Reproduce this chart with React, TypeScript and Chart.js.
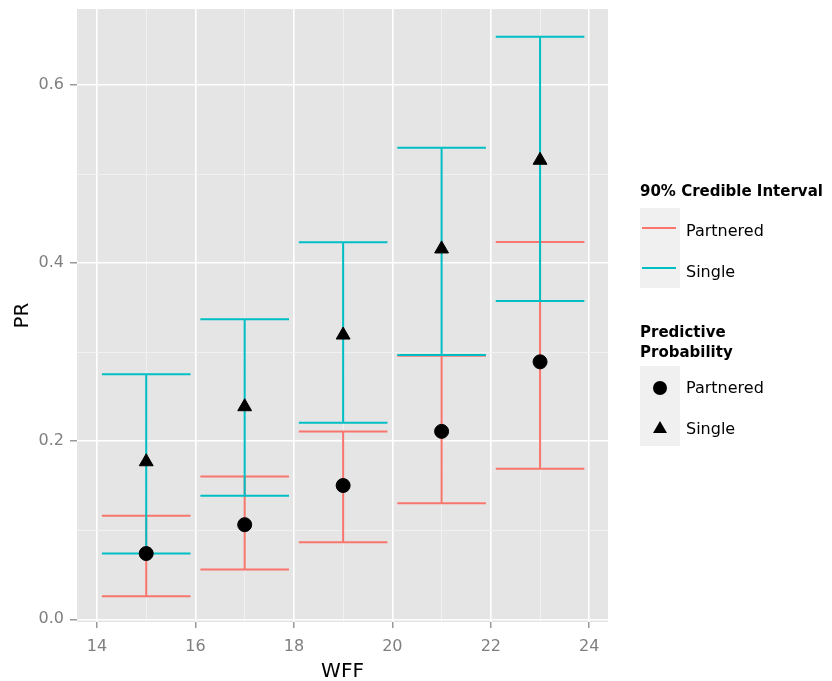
import React, { useEffect, useRef } from "react";
import { Chart, registerables } from "chart.js";

Chart.register(...registerables);

// ---- data ----
const xCategories = [15, 17, 19, 21, 23];
const partneredLow = [0.026, 0.056, 0.0865, 0.1304, 0.169];
const partneredHigh = [0.1164, 0.1604, 0.2111, 0.296, 0.4238];
const singleLow = [0.0739, 0.1388, 0.2209, 0.297, 0.3574];
const singleHigh = [0.2754, 0.337, 0.4235, 0.5298, 0.6544];
const partneredProb = [0.0739, 0.1063, 0.1503, 0.2111, 0.2892];
const singleProb = [0.177, 0.2388, 0.3193, 0.416, 0.5156];

const xMajorTicks = [14, 16, 18, 20, 22, 24];
const xMinorTicks = [15, 17, 19, 21, 23];
const yMajorTicks = [0, 0.2, 0.4, 0.6];
const yMinorTicks = [0.1, 0.3, 0.5];
const capHalfWidth = 0.9;

const PINK = "#F8766D";
const CYAN = "#00BFC4";
const FONT = "'DejaVu Sans', Verdana, sans-serif";

function errorBarPoints(lows: number[], highs: number[]) {
  const pts: { x: number; y: number | null }[] = [];
  xCategories.forEach((x, i) => {
    const lo = lows[i];
    const hi = highs[i];
    pts.push(
      { x: x - capHalfWidth, y: hi },
      { x: x + capHalfWidth, y: hi },
      { x: x + capHalfWidth, y: null },
      { x, y: hi },
      { x, y: lo },
      { x, y: null },
      { x: x - capHalfWidth, y: lo },
      { x: x + capHalfWidth, y: lo },
      { x: x + capHalfWidth, y: null }
    );
  });
  return pts;
}

const isMajor = (list: number[], v: number) =>
  list.some((m) => Math.abs(m - v) < 1e-9);

const panelBg = {
  id: "panelBg",
  beforeDraw(chart: any) {
    const { ctx, chartArea: a } = chart;
    ctx.save();
    ctx.fillStyle = "#E5E5E5";
    ctx.fillRect(a.left, a.top, a.right - a.left, a.bottom - a.top);
    ctx.restore();
  },
};

export default function App() {
  const ref = useRef<HTMLCanvasElement | null>(null);

  useEffect(() => {
    if (!ref.current) return;
    const chart = new Chart(ref.current, {
      type: "scatter",
      data: {
        datasets: [
          {
            type: "scatter",
            label: "Partnered prob",
            data: xCategories.map((x, i) => ({ x, y: partneredProb[i] })),
            pointStyle: "circle",
            pointRadius: 7,
            pointBackgroundColor: "#000",
            pointBorderColor: "#000",
            pointBorderWidth: 1,
            order: 0,
          } as any,
          {
            type: "scatter",
            label: "Single prob",
            data: xCategories.map((x, i) => ({ x, y: singleProb[i] })),
            pointStyle: "triangle",
            pointRadius: 8,
            pointBackgroundColor: "#000",
            pointBorderColor: "#000",
            pointBorderWidth: 1,
            order: 0,
          } as any,
          {
            type: "line",
            label: "Single CI",
            data: errorBarPoints(singleLow, singleHigh),
            borderColor: CYAN,
            borderWidth: 2,
            pointRadius: 0,
            showLine: true,
            spanGaps: false,
            tension: 0,
            order: 1,
          } as any,
          {
            type: "line",
            label: "Partnered CI",
            data: errorBarPoints(partneredLow, partneredHigh),
            borderColor: PINK,
            borderWidth: 2,
            pointRadius: 0,
            showLine: true,
            spanGaps: false,
            tension: 0,
            order: 2,
          } as any,
        ],
      },
      options: {
        responsive: false,
        animation: false,
        events: [],
        devicePixelRatio: 1,
        layout: { padding: { top: 7, right: 224, left: 0, bottom: 0 } },
        plugins: {
          legend: { display: false },
          tooltip: { enabled: false },
        },
        scales: {
          x: {
            type: "linear",
            min: 13.594,
            max: 24.38,
            afterBuildTicks: (axis: any) => {
              axis.ticks = [...xMajorTicks, ...xMinorTicks]
                .sort((a, b) => a - b)
                .map((v) => ({ value: v }));
            },
            afterFit: (axis: any) => {
              axis.height = 59;
              axis.paddingLeft = 0;
              axis.paddingRight = 0;
            },
            border: { display: false },
            grid: {
              color: (c: any) =>
                c.tick && isMajor(xMajorTicks, c.tick.value) ? "#FFFFFF" : "#F2F2F2",
              lineWidth: (c: any) =>
                c.tick && isMajor(xMajorTicks, c.tick.value) ? 1.6 : 0.9,
              tickColor: (c: any) =>
                c.tick && isMajor(xMajorTicks, c.tick.value) ? "#7F7F7F" : "rgba(0,0,0,0)",
              tickLength: 6,
              tickWidth: 1.2,
            },
            ticks: {
              autoSkip: false,
              maxRotation: 0,
              padding: 9,
              color: "#7F7F7F",
              font: { family: FONT, size: 16 },
              callback: (v: any) => (isMajor(xMajorTicks, Number(v)) ? String(v) : ""),
            },
            title: {
              display: true,
              text: "WFF",
              color: "#000",
              font: { family: FONT, size: 20, lineHeight: 1 },
              padding: { top: 0, bottom: -1 },
            },
          },
          y: {
            type: "linear",
            min: -0.003,
            max: 0.6855,
            afterBuildTicks: (axis: any) => {
              axis.ticks = [...yMajorTicks, ...yMinorTicks]
                .sort((a, b) => a - b)
                .map((v) => ({ value: v }));
            },
            afterFit: (axis: any) => {
              axis.width = 77;
              axis.paddingTop = 0;
              axis.paddingBottom = 0;
            },
            border: { display: false },
            grid: {
              color: (c: any) =>
                c.tick && isMajor(yMajorTicks, c.tick.value) ? "#FFFFFF" : "#F2F2F2",
              lineWidth: (c: any) =>
                c.tick && isMajor(yMajorTicks, c.tick.value) ? 1.6 : 0.9,
              tickColor: (c: any) =>
                c.tick && isMajor(yMajorTicks, c.tick.value) ? "#7F7F7F" : "rgba(0,0,0,0)",
              tickLength: 7,
              tickWidth: 1.2,
            },
            ticks: {
              autoSkip: false,
              padding: 6,
              color: "#7F7F7F",
              font: { family: FONT, size: 16 },
              callback: (v: any) =>
                isMajor(yMajorTicks, Number(v)) ? Number(v).toFixed(1) : "",
            },
            title: {
              display: true,
              text: "PR",
              color: "#000",
              font: { family: FONT, size: 20, lineHeight: 1.2 },
              padding: { top: 11, bottom: 0 },
            },
          },
        },
      } as any,
      plugins: [panelBg],
    });
    return () => chart.destroy();
  }, []);

  const titleStyle: React.CSSProperties = {
    position: "absolute",
    left: 640,
    fontFamily: FONT,
    fontWeight: "bold",
    fontSize: 15,
    lineHeight: "20px",
    color: "#000",
    whiteSpace: "nowrap",
  };
  const labelStyle: React.CSSProperties = {
    position: "absolute",
    left: 686,
    fontFamily: FONT,
    fontSize: 16,
    lineHeight: "20px",
    color: "#000",
    whiteSpace: "nowrap",
  };
  const keyStyle = (top: number): React.CSSProperties => ({
    position: "absolute",
    left: 640,
    top,
    width: 40,
    height: 40,
    background: "#F0F0F0",
  });

  return (
    <div
      style={{
        position: "fixed",
        left: 0,
        top: 0,
        width: 832,
        height: 681,
        background: "#FFFFFF",
        overflow: "hidden",
      }}
    >
      <canvas
        ref={ref}
        width={832}
        height={681}
        style={{ position: "absolute", left: 0, top: 0, width: 832, height: 681 }}
      />
      <div style={{ ...titleStyle, top: 181 }}>90% Credible Interval</div>
      <div style={keyStyle(208)}>
        <div style={{ position: "absolute", left: 2, top: 19, width: 34, height: 2, background: PINK }} />
      </div>
      <div style={keyStyle(248)}>
        <div style={{ position: "absolute", left: 2, top: 19, width: 34, height: 2, background: CYAN }} />
      </div>
      <div style={{ ...labelStyle, top: 221 }}>Partnered</div>
      <div style={{ ...labelStyle, top: 262 }}>Single</div>

      <div style={{ ...titleStyle, top: 322 }}>
        Predictive
        <br />
        Probability
      </div>
      <div style={keyStyle(366)}>
        <div
          style={{
            position: "absolute",
            left: 13,
            top: 15,
            width: 14,
            height: 14,
            borderRadius: "50%",
            background: "#000",
          }}
        />
      </div>
      <div style={keyStyle(406)}>
        <div
          style={{
            position: "absolute",
            left: 13,
            top: 15,
            width: 0,
            height: 0,
            borderLeft: "7px solid transparent",
            borderRight: "7px solid transparent",
            borderBottom: "12px solid #000",
          }}
        />
      </div>
      <div style={{ ...labelStyle, top: 378 }}>Partnered</div>
      <div style={{ ...labelStyle, top: 419 }}>Single</div>
    </div>
  );
}
